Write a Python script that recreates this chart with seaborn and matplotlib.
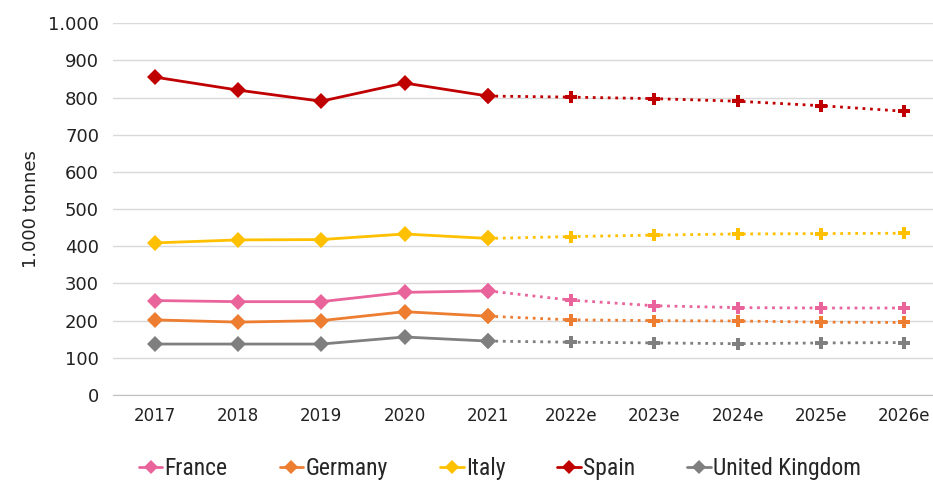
import numpy as np
import pandas as pd
import seaborn as sns
import matplotlib.pyplot as plt
from matplotlib.lines import Line2D
from matplotlib.ticker import FuncFormatter, MultipleLocator
from matplotlib import font_manager

years = ['2017', '2018', '2019', '2020', '2021', '2022e', '2023e', '2024e', '2025e', '2026e']
countries = ['France', 'Germany', 'Italy', 'Spain', 'United Kingdom']
france = [254, 251, 251, 276, 280, 255, 240, 235, 234, 234]
germany = [202, 196, 200, 224, 212, 202, 200, 199, 196, 195]
italy = [409, 417, 418, 433, 421, 426, 430, 433, 434, 435]
spain = [855, 820, 790, 839, 804, 801, 797, 790, 778, 763]
uk = [137, 137, 137, 156, 145, 142, 140, 138, 140, 141]
colors = ['#E8649B', '#ED7D31', '#FFC000', '#C00000', '#7F7F7F']
n_actual = 5  # 2017-2021 observed, rest estimated

rows = []
for c, vals in zip(countries, [france, germany, italy, spain, uk]):
    for i, (y, v) in enumerate(zip(years, vals)):
        rows.append({'country': c, 'idx': i, 'year': y, 'value': v})
df = pd.DataFrame(rows)
actual = df[df.idx < n_actual]
forecast = df[df.idx >= n_actual - 1]
palette = dict(zip(countries, colors))

sns.set_style('white')
plt.rcParams['font.family'] = ['DejaVu Sans']

# narrow font for the legend, if there is one
names = {f.name for f in font_manager.fontManager.ttflist}
narrow = [n for n in ['Roboto Condensed', 'Liberation Sans Narrow'] if n in names]
legend_prop = {'family': narrow + ['DejaVu Sans'], 'size': 17}
if not narrow:
    legend_prop = {'family': ['DejaVu Sans'], 'size': 16, 'stretch': 'condensed'}

fig = plt.figure(figsize=(9.33, 4.82), dpi=100)
ax = fig.add_axes([0.121, 0.1805, 1.014 - 0.121, 0.952 - 0.1805])

sns.lineplot(data=forecast, x='idx', y='value', hue='country', palette=palette,
             linestyle=(0, (1, 1.7)), linewidth=2.0, marker='P', markersize=8,
             markeredgewidth=0, legend=False, ax=ax)
sns.lineplot(data=actual, x='idx', y='value', hue='country', palette=palette,
             linewidth=2.0, marker='D', markersize=8, markeredgewidth=0,
             legend=False, ax=ax)
# 2021 diamond drawn over the start of the dotted line
for c in countries:
    pt = actual[(actual.country == c) & (actual.idx == n_actual - 1)]
    ax.plot(pt.idx, pt.value, marker='D', markersize=8, markeredgewidth=0,
            color=palette[c], zorder=5)

ax.set_xlim(-0.5, 9.5)
ax.set_ylim(0, 1000)
ax.yaxis.set_major_locator(MultipleLocator(100))
ax.yaxis.set_major_formatter(FuncFormatter(lambda v, p: f'{int(v):,}'.replace(',', '.')))
ax.grid(axis='y', color='#D9D9D9', linewidth=1)
ax.set_axisbelow(True)

ax.set_xticks(range(len(years)))
ax.set_xticklabels(years)
ax.set_xticks(np.arange(-0.5, 10, 1), minor=True)
ax.tick_params(axis='x', which='major', length=0, pad=9, labelsize=12, labelcolor='#222222')
ax.tick_params(axis='x', which='minor', length=8, color='#BFBFBF', width=1)
ax.tick_params(axis='y', length=0, pad=10, labelsize=13, labelcolor='#222222')
plt.setp(ax.get_xticklabels() + ax.get_yticklabels(), family='DejaVu Sans')

for s in ['top', 'right', 'left']:
    ax.spines[s].set_visible(False)
ax.spines['bottom'].set_color('#BFBFBF')

ax.set_xlabel('')
ax.set_ylabel('1.000 tonnes', fontsize=13, color='#222222', labelpad=6, family='DejaVu Sans')

handles = [Line2D([0], [0], color=col, marker='D', markersize=7, linewidth=2.0,
                  markeredgewidth=0) for col in colors]
fig.legend(handles, countries, loc='center', bbox_to_anchor=(0.536, 0.028), ncol=5,
           frameon=False, handlelength=1.0, handletextpad=0.1, columnspacing=2.2,
           prop=legend_prop)

fig.savefig('out.png', dpi=100)
